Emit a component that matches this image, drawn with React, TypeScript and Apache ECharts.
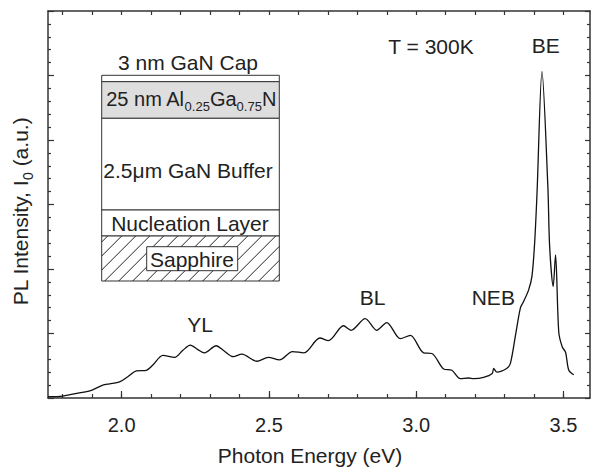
import React, { useEffect, useRef } from 'react';
import * as echarts from 'echarts';

// Photon energy (eV) and PL intensity (a.u.)
const energies = [
  1.750, 1.800, 1.857, 1.897, 1.936, 1.959, 1.993, 2.021, 2.050, 2.084,
  2.106, 2.140, 2.180, 2.208, 2.233, 2.259, 2.281, 2.321, 2.345, 2.379,
  2.408, 2.459, 2.498, 2.536, 2.580, 2.619, 2.673, 2.702, 2.753, 2.779,
  2.827, 2.866, 2.900, 2.946, 2.980, 3.025, 3.053, 3.093, 3.121, 3.150,
  3.178, 3.195, 3.229, 3.258, 3.263, 3.274, 3.308, 3.320, 3.337, 3.354,
  3.365, 3.382, 3.393, 3.402, 3.410, 3.427, 3.447, 3.453, 3.465, 3.473,
  3.484, 3.496, 3.507, 3.518, 3.535,
];
const intensities = [
  0.02, 0.03, 0.08, 0.12, 0.20, 0.22, 0.25, 0.33, 0.42, 0.43,
  0.51, 0.66, 0.63, 0.74, 0.82, 0.75, 0.70, 0.81, 0.74, 0.64,
  0.68, 0.57, 0.63, 0.59, 0.72, 0.70, 0.93, 0.89, 1.12, 1.05,
  1.23, 1.05, 1.17, 0.92, 0.97, 0.70, 0.69, 0.45, 0.43, 0.30,
  0.31, 0.30, 0.32, 0.38, 0.46, 0.40, 0.46, 0.54, 0.97, 1.40,
  1.50, 1.68, 1.89, 2.40, 3.16, 5.06, 3.27, 2.35, 1.73, 2.22,
  1.02, 0.79, 0.71, 0.43, 0.36,
];

const xMajorTicks = [2.0, 2.5, 3.0, 3.5];
const xMinorTicks = [
  1.8, 1.9, 2.0, 2.1, 2.2, 2.3, 2.4, 2.5, 2.6, 2.7, 2.8, 2.9,
  3.0, 3.1, 3.2, 3.3, 3.4, 3.5,
];

const peakNames = ['YL', 'BL', 'NEB', 'BE'];
const tempLabel = 'T = 300K';
const layerNames = ['3 nm GaN Cap', '2.5\u03bcm GaN Buffer', 'Nucleation Layer', 'Sapphire'];

export default function App() {
  const ref = useRef<HTMLDivElement>(null);

  useEffect(() => {
    const chart = echarts.init(ref.current!, null, { renderer: 'svg' });
    const font = "'Liberation Sans', Arial, Helvetica, sans-serif";
    const axisColor = '#333';
    const textColor = '#222';
    const xMin = 1.75;
    const xMax = 3.59;
    const data = energies.map((e, i) => [e, intensities[i]]);

    // inset layer stack (pixel layout)
    const bx0 = 101.7;
    const bx1 = 279.3;
    const bw = bx1 - bx0;
    const layerRects: [number, number, string][] = [
      [75.3, 81.7, '#ffffff'],
      [81.7, 118.3, '#dedede'],
      [118.3, 210, '#ffffff'],
      [210, 236, '#ffffff'],
      [236, 281, '#ffffff'],
    ];
    const graphics: any[] = [];
    layerRects.forEach(([y0, y1, fill]) => {
      graphics.push({
        type: 'rect',
        shape: { x: bx0, y: y0, width: bw, height: y1 - y0 },
        style: { fill, stroke: axisColor, lineWidth: 1 },
        z: 10,
      });
    });
    // hatch in sapphire
    const hy0 = 236;
    const hy1 = 281;
    for (let c = bx0 + hy0 + 6; c < bx1 + hy1; c += 14) {
      const xa = Math.max(bx0, c - hy1);
      const xb = Math.min(bx1, c - hy0);
      if (xb <= xa) continue;
      graphics.push({
        type: 'line',
        shape: { x1: xa, y1: c - xa, x2: xb, y2: c - xb },
        style: { stroke: '#222', lineWidth: 1 },
        z: 11,
      });
    }
    graphics.push({
      type: 'rect',
      shape: { x: 146.7, y: 246.7, width: 91, height: 24 },
      style: { fill: '#ffffff', stroke: axisColor, lineWidth: 1 },
      z: 12,
    });
    const txt = (text: string, x: number, y: number, size = 21) => ({
      type: 'text',
      x,
      y,
      z: 13,
      style: {
        text,
        fill: textColor,
        font: `${size}px ${font}`,
        fontSize: size,
        fontFamily: font,
        align: 'center',
        verticalAlign: 'middle',
      },
    });
    graphics.push(txt(layerNames[0], 188, 62));
    graphics.push({
      type: 'text',
      x: 191,
      y: 101,
      z: 13,
      style: {
        text: '{m|25 nm Al}{s|0.25}{m|Ga}{s|0.75}{m|N}',
        align: 'center',
        verticalAlign: 'middle',
        rich: {
          m: { fontSize: 20, fontFamily: font, fill: textColor, lineHeight: 24, verticalAlign: 'top' },
          s: { fontSize: 13, fontFamily: font, fill: textColor, lineHeight: 14, padding: [11, 0, 0, 0], verticalAlign: 'top' },
        },
      },
    });
    graphics.push(txt(layerNames[1], 188, 170));
    graphics.push(txt(layerNames[2], 190, 223));
    graphics.push(txt(layerNames[3], 192, 259));
    // annotations
    graphics.push(txt(tempLabel, 431, 46));
    graphics.push(txt(peakNames[0], 200, 324));
    graphics.push(txt(peakNames[1], 372.5, 297.5));
    graphics.push(txt(peakNames[2], 493.3, 297.5));
    graphics.push(txt(peakNames[3], 545.7, 45));

    const xCommon = {
      type: 'value',
      min: xMin,
      max: xMax,
      splitLine: { show: false },
      gridIndex: 0,
    };
    const yCommon = {
      type: 'value',
      min: 0,
      max: 6,
      interval: 1,
      splitLine: { show: false },
      minorSplitLine: { show: false },
      axisLabel: { show: false },
      axisLine: { show: true, lineStyle: { color: axisColor, width: 1.5 } },
    };

    chart.setOption({
      animation: false,
      backgroundColor: '#ffffff',
      grid: { left: 48, right: 1, top: 11, bottom: 69, containLabel: false },
      xAxis: [
        {
          ...xCommon,
          position: 'bottom',
          axisLine: { show: true, onZero: false, lineStyle: { color: axisColor, width: 1.5 } },
          axisTick: { show: true, inside: true, length: 7, customValues: xMajorTicks, lineStyle: { color: axisColor, width: 1.2 } },
          axisLabel: {
            show: true,
            customValues: xMajorTicks,
            formatter: (v: number) => v.toFixed(1),
            margin: 17,
            fontSize: 20,
            lineHeight: 20,
            color: textColor,
            fontFamily: font,
          },
          name: 'Photon Energy (eV)',
          nameLocation: 'middle',
          nameGap: 45,
          nameTextStyle: { fontSize: 21, lineHeight: 24, color: textColor, fontFamily: font, padding: [0, 18, 0, 0] },
        },
        {
          ...xCommon,
          position: 'bottom',
          axisLine: { show: false, onZero: false },
          axisTick: { show: true, inside: true, length: 4, customValues: xMinorTicks, lineStyle: { color: axisColor, width: 1.2 } },
          axisLabel: { show: false },
        },
        {
          ...xCommon,
          position: 'top',
          axisLine: { show: true, onZero: false, lineStyle: { color: axisColor, width: 1.5 } },
          axisTick: { show: true, inside: true, length: 4, customValues: xMinorTicks, lineStyle: { color: axisColor, width: 1.2 } },
          axisLabel: { show: false },
        },
      ],
      yAxis: [
        {
          ...yCommon,
          position: 'left',
          axisTick: { show: true, inside: true, length: 6, lineStyle: { color: axisColor, width: 1.2 } },
          minorTick: { show: true, splitNumber: 5, length: 3, lineStyle: { color: axisColor, width: 1.2 } },
          name: '{m|PL Intensity, I}{s|0}{m| (a.u.)}',
          nameLocation: 'middle',
          nameGap: 14,
          nameTextStyle: {
            padding: [0, 14, 0, 0],
            rich: {
              m: { fontSize: 21, fontFamily: font, color: textColor, lineHeight: 24, verticalAlign: 'top' },
              s: { fontSize: 14, fontFamily: font, color: textColor, lineHeight: 14, padding: [11, 0, 0, 0], verticalAlign: 'top' },
            },
          },
        },
        {
          ...yCommon,
          position: 'right',
          axisTick: { show: true, inside: true, length: 5, lineStyle: { color: axisColor, width: 1.2 } },
          minorTick: { show: true, splitNumber: 5, length: 3, lineStyle: { color: axisColor, width: 1.2 } },
        },
      ],
      series: [
        {
          type: 'line',
          xAxisIndex: 0,
          yAxisIndex: 0,
          data,
          showSymbol: false,
          smooth: 0.3,
          lineStyle: { color: '#111', width: 1.3 },
        },
      ],
      graphic: graphics,
    });

    return () => chart.dispose();
  }, []);

  return <div ref={ref} style={{ position: 'fixed', left: 0, top: 0, width: 591, height: 472 }} />;
}
